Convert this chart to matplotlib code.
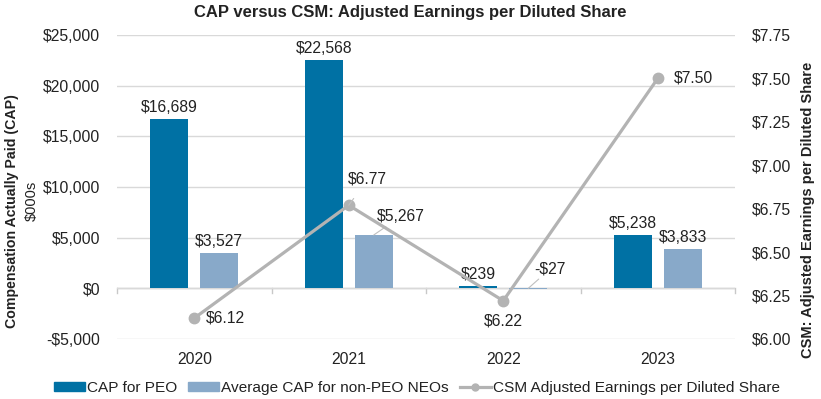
import matplotlib.pyplot as plt
import numpy as np
from matplotlib.lines import Line2D
from matplotlib.patches import Patch

plt.rcParams['font.family'] = ['Liberation Sans', 'DejaVu Sans']

years = ['2020', '2021', '2022', '2023']
cap_peo = [16689, 22568, 239, 5238]
cap_neo = [3527, 5267, -27, 3833]
eps = [6.12, 6.77, 6.22, 7.50]

peo_color = '#0071A4'
neo_color = '#88A9C9'
line_color = '#B3B3B3'
txt = '#222222'
px = 0.72  # points per pixel at dpi 100

fig = plt.figure(figsize=(8.21, 3.99), dpi=100)
ax = fig.add_axes([117 / 821, 1 - 339 / 399, 618 / 821, 304 / 399])
ax2 = ax.twinx()

x = np.arange(len(years))
w = 0.246
off = 0.162
ax.bar(x - off, cap_peo, w, color=peo_color, zorder=2)
ax.bar(x + off, cap_neo, w, color=neo_color, zorder=2)

ticks = list(range(-5000, 25001, 5000))
ax.set_ylim(-5000, 25000)
ax.set_yticks(ticks)
ax.set_yticklabels(['-$5,000' if v < 0 else f'${v:,}' for v in ticks])
ax.set_xlim(-0.5, 3.5)
ax.set_xticks(x)
ax.set_xticklabels(years)
ax.grid(axis='y', color='#D9D9D9', linewidth=1, zorder=0)
ax.axhline(0, color='#C8C8C8', linewidth=1, zorder=1)
for b in [-0.5, 0.5, 1.5, 2.5, 3.5]:
    ax.plot([b, b], [0, -450], color='#C8C8C8', linewidth=1, zorder=1, clip_on=False)
ax.tick_params(length=0, labelsize=11.3, colors=txt, pad=12)
ax.tick_params(axis='x', pad=9)
for s in list(ax.spines.values()) + list(ax2.spines.values()):
    s.set_visible(False)

# bar labels
lab = dict(ha='center', va='bottom', fontsize=11.3, color=txt, textcoords='offset points')
for i, v in enumerate(cap_peo):
    ax.annotate(f'${v:,}', xy=(x[i] - off, v), xytext=(0, 4 * px), **lab)
for i, v in enumerate(cap_neo):
    if i == 1:
        ax.annotate(f'${v:,}', xy=(x[i] + off, v), xytext=(27 * px, 11 * px),
                    arrowprops=dict(arrowstyle='-', color='#BFBFBF', lw=0.8, shrinkA=0, shrinkB=0), **lab)
    elif i == 2:
        ax.annotate(f'-${-v:,}', xy=(x[i] + off, 0), xytext=(22 * px, 12 * px),
                    arrowprops=dict(arrowstyle='-', color='#BFBFBF', lw=0.8, shrinkA=0, shrinkB=0), **lab)
    else:
        ax.annotate(f'${v:,}', xy=(x[i] + off, v), xytext=(0, 4 * px), **lab)

ax2.plot(x, eps, color=line_color, linewidth=2.3, marker='o', markersize=7.5, zorder=3)
eps_ticks = np.arange(6.0, 7.76, 0.25)
ax2.set_ylim(6.0, 7.75)
ax2.set_yticks(eps_ticks)
ax2.set_yticklabels([f'${v:.2f}' for v in eps_ticks])
ax2.tick_params(length=0, labelsize=11.3, colors=txt, pad=12)

elab = dict(fontsize=11.3, color=txt, textcoords='offset points')
ax2.annotate(f'${eps[0]:.2f}', xy=(x[0], eps[0]), xytext=(12 * px, 0), ha='left', va='center', **elab)
ax2.annotate(f'${eps[1]:.2f}', xy=(x[1], eps[1]), xytext=(19 * px, 26 * px), ha='center', va='center',
             arrowprops=dict(arrowstyle='-', color='#BFBFBF', lw=0.8, shrinkA=8, shrinkB=0), **elab)
ax2.annotate(f'${eps[2]:.2f}', xy=(x[2], eps[2]), xytext=(0, -20 * px), ha='center', va='center', **elab)
ax2.annotate(f'${eps[3]:.2f}', xy=(x[3], eps[3]), xytext=(16 * px, 0), ha='left', va='center', **elab)

fig.text(0.5, 1 - 12 / 399, 'CAP versus CSM: Adjusted Earnings per Diluted Share', ha='center', va='center',
         fontsize=12, fontweight='bold', color=txt)
fig.text(12 / 821, 1 - 211 / 399, 'Compensation Actually Paid (CAP)', rotation=90, ha='center', va='center',
         fontsize=10.2, fontweight='bold', color=txt)
fig.text(32 / 821, 1 - 201 / 399, '$000s', rotation=90, ha='center', va='center', fontsize=10.5, color=txt)
fig.text(808 / 821, 1 - 210 / 399, 'CSM: Adjusted Earnings per Diluted Share', rotation=90, ha='center',
         va='center', fontsize=10.5, fontweight='bold', color=txt)

handles = [Patch(color=peo_color), Patch(color=neo_color),
           Line2D([], [], color=line_color, linewidth=2.3, marker='o', markersize=5)]
labels = ['CAP for PEO', 'Average CAP for non-PEO NEOs', 'CSM Adjusted Earnings per Diluted Share']
fig.legend(handles, labels, loc='center', bbox_to_anchor=(417 / 821, 1 - 388 / 399), ncol=3, frameon=False,
           fontsize=11.1, handlelength=2.0, handleheight=0.55, handletextpad=0.15, columnspacing=0.7,
           labelcolor=txt, borderpad=0)

fig.savefig('out.png', dpi=100)
